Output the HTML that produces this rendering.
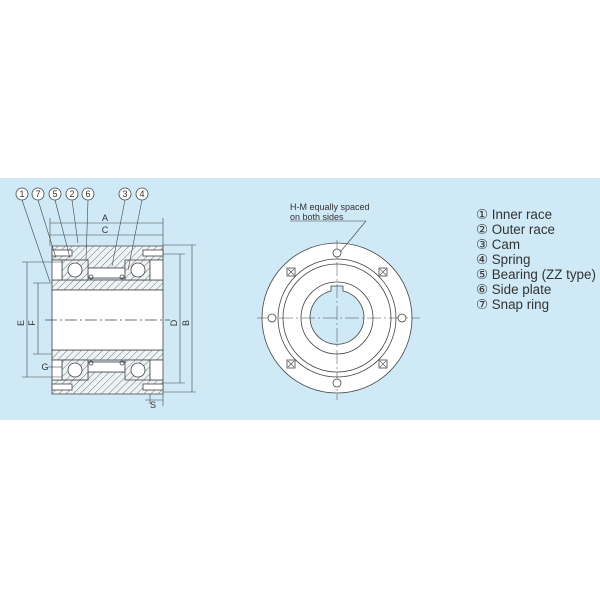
<!DOCTYPE html>
<html><head><meta charset="utf-8"><style>
html,body{margin:0;padding:0;background:#fff;width:600px;height:600px;overflow:hidden}
svg{display:block}
text{font-family:"Liberation Sans",sans-serif;fill:#333}
</style></head><body>
<svg width="600" height="600" viewBox="0 0 600 600" xmlns="http://www.w3.org/2000/svg">
<defs>
<pattern id="h" width="5" height="5" patternUnits="userSpaceOnUse" patternTransform="rotate(45)">
<rect width="5" height="5" fill="#eef4f6"/><line x1="0" y1="0" x2="0" y2="5" stroke="#555" stroke-width="0.8"/>
</pattern>
</defs>
<rect x="0" y="178" width="600" height="242" fill="#cfe9f6"/>

<g stroke="#444" stroke-width="0.8" fill="none">
<path d="M52 246 H163 V260 H150 V268 H125 V268 H88 V260 H52 Z" fill="url(#h)"/>
<path d="M52 394 H163 V380 H150 V372 H88 V380 H52 Z" fill="url(#h)"/>
<rect x="52" y="280" width="111" height="10" fill="url(#h)"/>
<rect x="52" y="350" width="111" height="10" fill="url(#h)"/>
<rect x="52" y="290" width="111" height="60" fill="#fff"/>
<rect x="88" y="268" width="37" height="10" fill="#fff"/>
<rect x="88" y="362" width="37" height="10" fill="#fff"/>
<rect x="62" y="260" width="26" height="20" fill="url(#h)"/>
<rect x="125" y="260" width="25" height="20" fill="url(#h)"/>
<rect x="62" y="360" width="26" height="20" fill="url(#h)"/>
<rect x="125" y="360" width="25" height="20" fill="url(#h)"/>
<circle cx="75" cy="270" r="7" fill="#fff"/><circle cx="138" cy="270" r="7" fill="#fff"/>
<circle cx="75" cy="370" r="7" fill="#fff"/><circle cx="138" cy="370" r="7" fill="#fff"/>
<circle cx="91" cy="277" r="2"/><circle cx="122" cy="277" r="2"/>
<circle cx="91" cy="363" r="2"/><circle cx="122" cy="363" r="2"/>
<rect x="52" y="260" width="10" height="20" fill="#fff"/><rect x="150" y="260" width="13" height="20" fill="#fff"/>
<rect x="52" y="360" width="10" height="20" fill="#fff"/><rect x="150" y="360" width="13" height="20" fill="#fff"/>
<rect x="52" y="250" width="20" height="6" fill="#fff"/><rect x="143" y="250" width="20" height="6" fill="#fff"/>
<rect x="52" y="384" width="20" height="6" fill="#fff"/><rect x="143" y="384" width="20" height="6" fill="#fff"/>
<line x1="45" y1="320" x2="170" y2="320" stroke-dasharray="12 3 2 3"/>
</g>
<g stroke="#444" stroke-width="0.6" fill="none">
<line x1="50" y1="223" x2="163" y2="223"/><line x1="50" y1="235" x2="163" y2="235"/>
<line x1="50" y1="218" x2="50" y2="246"/><line x1="163" y1="218" x2="163" y2="246"/>
<line x1="27" y1="262" x2="27" y2="377"/><line x1="38" y1="283" x2="38" y2="354"/>
<line x1="22" y1="262" x2="62" y2="262"/><line x1="22" y1="377" x2="62" y2="377"/>
<line x1="33" y1="283" x2="52" y2="283"/><line x1="33" y1="354" x2="52" y2="354"/>
<line x1="180" y1="254" x2="180" y2="383"/><line x1="192" y1="245" x2="192" y2="392"/>
<line x1="163" y1="254" x2="185" y2="254"/><line x1="163" y1="383" x2="185" y2="383"/>
<line x1="163" y1="245" x2="196" y2="245"/><line x1="163" y1="392" x2="196" y2="392"/>
<line x1="145" y1="400" x2="163" y2="400"/><line x1="163" y1="394" x2="163" y2="406"/><line x1="150" y1="394" x2="150" y2="404"/>
<line x1="48" y1="367" x2="62" y2="367"/>
<line x1="22" y1="200" x2="50" y2="282"/>
<line x1="38" y1="200" x2="56" y2="258"/>
<line x1="55" y1="200" x2="70" y2="258"/>
<line x1="72" y1="200" x2="78" y2="243"/>
<line x1="88" y1="200" x2="86" y2="260"/>
<line x1="125" y1="200" x2="112" y2="266"/>
<line x1="142" y1="200" x2="128" y2="270"/>
</g>
<g fill="#fff" stroke="#444" stroke-width="0.8">
<circle cx="22" cy="194" r="6"/><circle cx="38" cy="194" r="6"/><circle cx="55" cy="194" r="6"/><circle cx="72" cy="194" r="6"/><circle cx="88" cy="194" r="6"/><circle cx="125" cy="194" r="6"/><circle cx="142" cy="194" r="6"/>
</g>
<g font-size="9" text-anchor="middle">
<text x="22" y="197">1</text><text x="38" y="197">7</text><text x="55" y="197">5</text><text x="72" y="197">2</text><text x="88" y="197">6</text><text x="125" y="197">3</text><text x="142" y="197">4</text>
<text x="105" y="221">A</text><text x="105" y="233">C</text>
<text x="153" y="408">S</text><text x="45" y="370">G</text>
<text x="24" y="323" transform="rotate(-90 24 323)">E</text>
<text x="35" y="323" transform="rotate(-90 35 323)">F</text>
<text x="177" y="323" transform="rotate(-90 177 323)">D</text>
<text x="189" y="323" transform="rotate(-90 189 323)">B</text>
</g>

<g stroke="#444" stroke-width="0.8" fill="#fff">
<circle cx="337" cy="318" r="75"/>
<circle cx="337" cy="318" r="59" fill="none"/>
<circle cx="337" cy="318" r="54" fill="none"/>
<circle cx="337" cy="318" r="36" fill="none"/>
<path d="M331 291 V286 H343 V291 A27 27 0 1 1 331 291 Z" fill="#cfe9f6"/>
<line x1="257" y1="318" x2="420" y2="318" stroke-width="0.5" stroke-dasharray="14 3 2 3"/>
<line x1="337" y1="240" x2="337" y2="400" stroke-width="0.5" stroke-dasharray="14 3 2 3"/>
<circle cx="337" cy="253" r="4"/><circle cx="337" cy="383" r="4"/>
<circle cx="272" cy="318" r="4"/><circle cx="402" cy="318" r="4"/>
<g>
<rect x="287" y="268" width="8" height="8"/><rect x="379" y="268" width="8" height="8"/>
<rect x="287" y="360" width="8" height="8"/><rect x="379" y="360" width="8" height="8"/>
<path d="M288 269l6 6M294 269l-6 6M380 269l6 6M386 269l-6 6M288 361l6 6M294 361l-6 6M380 361l6 6M386 361l-6 6" stroke-width="0.6"/>
</g>
</g>
<g stroke="#444" stroke-width="0.6" fill="none">
<line x1="290" y1="221" x2="366" y2="221"/><line x1="366" y1="221" x2="341" y2="251"/>
</g>
<g font-size="9">
<text x="290" y="210">H-M equally spaced</text>
<text x="290" y="220">on both sides</text>
</g>

<g font-size="13.4" fill="#3a3a3a">
<text x="476" y="219">① Inner race</text>
<text x="476" y="234">② Outer race</text>
<text x="476" y="249">③ Cam</text>
<text x="476" y="264">④ Spring</text>
<text x="476" y="279">⑤ Bearing (ZZ type)</text>
<text x="476" y="294">⑥ Side plate</text>
<text x="476" y="309">⑦ Snap ring</text>
</g>
</svg>
</body></html>
